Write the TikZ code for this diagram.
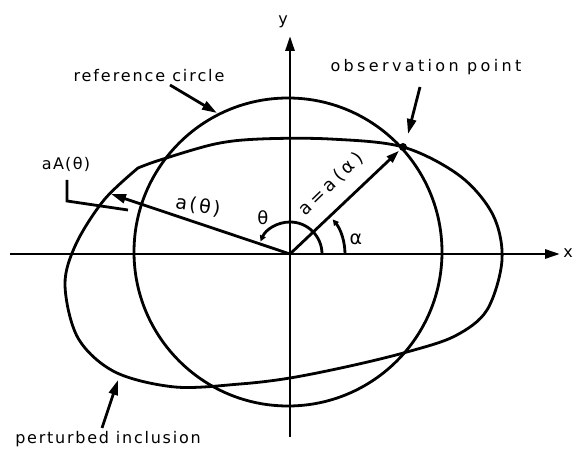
\documentclass[tikz,border=0pt]{standalone}
\usepackage{fontspec}
\setmainfont{DejaVu Sans}[LetterSpace=12]
\usetikzlibrary{arrows.meta}
\begin{document}
\begin{tikzpicture}[x=1pt,y=1pt, line width=2.8pt,
  lbl/.style={inner sep=0pt, font=\fontsize{16}{19}\selectfont},
  bigarrow/.style={-{Triangle[length=15pt,width=9pt]}},
  arcarrow/.style={-{Triangle[length=6pt,width=6pt]}}]
\useasboundingbox (0,0) rectangle (573,450);
% axes
\coordinate (O) at (290,196);
\coordinate (xl) at (10,196);
\coordinate (xr) at (560,196);
\coordinate (yb) at (290,13);
\coordinate (yt) at (290,414);
\draw[bigarrow] (xl) -- (xr);
\draw[bigarrow] (yb) -- (yt);
\node[lbl, anchor=base] (ylab) at (283,425) {y};
\node[lbl, anchor=base] (xlab) at (568,192) {x};
% reference circle
\coordinate (C) at (288,198);
\draw (C) circle[radius=154pt];
% perturbed inclusion
\draw plot[smooth, tension=0.55] coordinates {(138,282) (104,250) (76,206) (65,165) (78,112) (115,78) (175,63) (240,66) (290,72) (350,84) (407,98) (455,114) (487,140) (502,190) (493,235) (460,274) (403,303) (330,311) (260,311) (215,306) (160,290) (138,282)};
% observation point
\node[circle, fill, inner sep=0pt, minimum size=8pt] (obs) at (403,303) {};
\draw[-{Triangle[length=13pt,width=8pt]}] (O) -- (obs);
% a(theta) radius
\coordinate (Ath) at (111,256);
\draw[bigarrow] (O) -- (Ath);
% angle arcs
\draw[arcarrow] ([shift={(0:32)}]O) arc[start angle=0, end angle=157, radius=32pt];
\draw[arcarrow] ([shift={(0:55)}]O) arc[start angle=0, end angle=39, radius=55pt];
\node[lbl, anchor=base, font=\fontsize{18}{20}\selectfont] (thlab) at (263,225) {θ};
\node[lbl, anchor=base, font=\fontsize{19}{20}\selectfont] (allab) at (356,205) {α};
\node[lbl, rotate=44, font=\fontsize{18}{20}\selectfont] (alab) at (331,266) {\addfontfeature{LetterSpace=20}a=a(α)};
\node[lbl, rotate=-8, font=\fontsize{19}{20}\selectfont] (athlab) at (198,244) {a(θ)};
% labels with arrows
\node[lbl, anchor=base] (refl) at (149,368) {\addfontfeature{LetterSpace=12}reference circle};
\coordinate (refs) at (170,365);
\coordinate (refe) at (217,337);
\draw[bigarrow] (refs) -- (refe);
\node[lbl, anchor=base] (obsl) at (426,378) {\addfontfeature{LetterSpace=21}observation point};
\coordinate (obss) at (420,363);
\coordinate (obse) at (408,316);
\draw[bigarrow] (obss) -- (obse);
\node[lbl, anchor=base] (perl) at (108,7) {\addfontfeature{LetterSpace=11}perturbed inclusion};
\coordinate (pers) at (102,22);
\coordinate (pere) at (118,70);
\draw[bigarrow] (pers) -- (pere);
\node[lbl, anchor=base] (aAl) at (66,280) {\addfontfeature{LetterSpace=8}aA(θ)};
\coordinate (ld1) at (67,270);
\coordinate (ld2) at (67,249);
\coordinate (ld3) at (128,240);
\draw (ld1) -- (ld2) -- (ld3);
\end{tikzpicture}
\end{document}
